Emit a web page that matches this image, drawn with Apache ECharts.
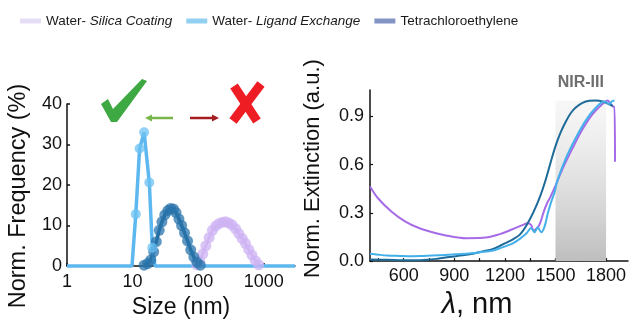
<!DOCTYPE html>
<html>
<head>
<meta charset="utf-8">
<script src="https://cdn.jsdelivr.net/npm/echarts@6/dist/echarts.min.js"></script>
<style>
  html, body { margin: 0; padding: 0; background: #ffffff; }
  #chart { width: 633px; height: 324px; }
</style>
</head>
<body>
<div id="chart"></div>
<script>
// ---- Series names ----
const seriesNames = ['Water- Silica Coating', 'Water- Ligand Exchange', 'Tetrachloroethylene'];

// ---- Left panel: DLS size distributions (size in nm, normalized frequency in %) ----
const sizeTicks = [1, 10, 100, 1000];

const silicaSize = [95, 105, 118, 131, 147, 165, 186, 209, 235, 263, 295, 331, 372, 418, 469, 526, 590, 663, 745, 840];
const silicaFreq = [0.3, 1.2, 3, 5, 7, 8.8, 9.9, 10.5, 10.8, 10.9, 10.6, 10.1, 9.2, 8, 6.8, 5.6, 4.1, 2.7, 1.3, 0.3];

const ligandSize = [1, 9.8, 11.2, 12.8, 15, 18, 20, 22, 3000];
const ligandFreq = [0, 0, 12.8, 29, 33, 20.6, 4.5, 0, 0];

const tetraSize = [15, 17, 19, 21, 23, 25.5, 28, 31, 34.5, 38, 42, 46, 51, 56, 62, 69, 77, 86, 96, 108];
const tetraFreq = [0.2, 0.6, 1.5, 3.5, 6, 8.8, 10.9, 12.6, 13.7, 14.2, 14.1, 13.2, 11.6, 10, 8.2, 6.2, 4, 2.2, 0.9, 0.2];

// ---- Right panel: normalized extinction spectra (wavelength in nm) ----
const wlLabelTicks = [600, 900, 1200, 1500, 1800];
const wlMinorTicks = [450, 600, 750, 900, 1050, 1200, 1350, 1500, 1650, 1800];
const extTicks = [0, 0.3, 0.6, 0.9];
const nirBand = [1500, 1800];
const nirLabel = 'NIR-III';

const silicaWl = [400, 450, 530, 610, 690, 770, 870, 970, 1070, 1170, 1245, 1300, 1335, 1355, 1370, 1385, 1395, 1410, 1430, 1450, 1470, 1500, 1540, 1600, 1660, 1720, 1780, 1810, 1830, 1845, 1850, 1853];
const silicaExt = [0.465, 0.388, 0.306, 0.246, 0.206, 0.18, 0.156, 0.143, 0.145, 0.168, 0.198, 0.222, 0.235, 0.225, 0.19, 0.2, 0.21, 0.24, 0.306, 0.36, 0.4, 0.47, 0.57, 0.7, 0.82, 0.915, 0.98, 1.0, 0.975, 0.96, 0.96, 0.618];

const ligandWl = [400, 450, 500, 575, 650, 700, 770, 850, 870, 970, 1050, 1130, 1170, 1210, 1250, 1290, 1330, 1355, 1375, 1395, 1415, 1435, 1455, 1475, 1495, 1510, 1560, 1620, 1680, 1740, 1790, 1820, 1835, 1850];
const ligandExt = [0.046, 0.04, 0.035, 0.032, 0.03, 0.031, 0.035, 0.038, 0.04, 0.046, 0.055, 0.066, 0.08, 0.095, 0.112, 0.14, 0.175, 0.206, 0.18, 0.21, 0.18, 0.215, 0.3, 0.37, 0.43, 0.496, 0.636, 0.766, 0.876, 0.956, 0.994, 0.978, 0.995, 1.0];

const tetraWl = [400, 500, 600, 700, 800, 870, 950, 1010, 1070, 1130, 1170, 1210, 1250, 1290, 1330, 1370, 1410, 1440, 1470, 1500, 1530, 1560, 1590, 1620, 1660, 1700, 1740, 1780, 1810, 1840];
const tetraExt = [0.01, 0.008, 0.005, 0.006, 0.015, 0.026, 0.036, 0.046, 0.06, 0.076, 0.095, 0.115, 0.137, 0.166, 0.226, 0.306, 0.406, 0.5, 0.61, 0.716, 0.8, 0.866, 0.92, 0.956, 0.985, 0.998, 1.0, 0.994, 0.98, 0.966];

const zip = (xs, ys) => xs.map((x, i) => [x, ys[i]]);

const FONT = "'Liberation Sans', Arial, sans-serif";
const black = '#111111';

const chart = echarts.init(document.getElementById('chart'), null, { renderer: 'canvas' });

function dlsSeries(name, xs, ys, lineColor, dotColor, lineWidth, dotSize) {
  return {
    name: name,
    type: 'line',
    xAxisIndex: 0,
    yAxisIndex: 0,
    clip: false,
    data: zip(xs, ys).map(p => p[1] === 0 ? { value: p, symbol: 'none' } : { value: p }),
    symbol: 'circle',
    symbolSize: dotSize,
    showAllSymbol: true,
    lineStyle: { color: lineColor, width: lineWidth },
    itemStyle: { color: dotColor, opacity: 0.75, borderWidth: 0 },
    emphasis: { disabled: true },
    animation: false
  };
}

function specSeries(name, xs, ys, color) {
  return {
    name: name,
    type: 'line',
    xAxisIndex: 1,
    yAxisIndex: 1,
    data: zip(xs, ys),
    showSymbol: false,
    smooth: 0.35,
    lineStyle: { color: color, width: 2 },
    itemStyle: { color: color },
    emphasis: { disabled: true },
    animation: false
  };
}

const specSilica = specSeries(seriesNames[0], silicaWl, silicaExt, '#a66be6');
specSilica.markArea = {
  silent: true,
  itemStyle: {
    opacity: 1,
    color: new echarts.graphic.LinearGradient(0, 0, 0, 1, [
      { offset: 0, color: 'rgba(240,240,240,0.5)' },
      { offset: 1, color: '#bebebe' }
    ])
  },
  label: {
    show: true,
    position: 'top',
    distance: 10,
    formatter: nirLabel,
    color: '#6e6e6e',
    fontFamily: FONT,
    fontWeight: 'bold',
    fontSize: 16
  },
  data: [[{ xAxis: nirBand[0], yAxis: 0 }, { xAxis: nirBand[1], yAxis: 1.0 }]]
};

const option = {
  backgroundColor: '#ffffff',
  animation: false,
  textStyle: { fontFamily: FONT },
  legend: {
    left: 15,
    top: 9,
    icon: 'rect',
    itemWidth: 21,
    itemHeight: 5,
    itemGap: 14,
    selectedMode: false,
    data: [
      { name: seriesNames[0], itemStyle: { color: '#dcd0f1' } },
      { name: seriesNames[1], itemStyle: { color: '#6cc0ec' } },
      { name: seriesNames[2], itemStyle: { color: '#5a72b2' } }
    ],
    formatter: function (name) {
      const prefix = 'Water- ';
      if (name.indexOf(prefix) === 0) {
        return '{n|' + prefix + '}{i|' + name.slice(prefix.length) + '}';
      }
      return '{n|' + name + '}';
    },
    textStyle: {
      fontFamily: FONT,
      fontSize: 13.5,
      color: '#1a1a1a',
      rich: {
        n: { fontFamily: FONT, fontSize: 13.5, color: '#1a1a1a' },
        i: { fontFamily: FONT, fontSize: 13.5, color: '#1a1a1a', fontStyle: 'italic' }
      }
    }
  },
  grid: [
    { left: 67, top: 104, right: 338, bottom: 57, containLabel: false },
    { left: 370, top: 90, right: 5, bottom: 56, containLabel: false }
  ],
  xAxis: [
    {
      gridIndex: 0,
      type: 'log',
      logBase: 10,
      min: 1,
      max: 3000,
      name: 'Size (nm)',
      nameLocation: 'middle',
      nameGap: 30,
      nameTextStyle: { fontFamily: FONT, fontSize: 23, color: black },
      axisLine: { show: true, onZero: false, lineStyle: { color: black, width: 1.5 } },
      axisTick: { show: true, inside: true, length: 3, lineStyle: { color: black, width: 1.5 } },
      axisLabel: {
        fontFamily: FONT, fontSize: 18, color: black, margin: 7,
        showMaxLabel: false,
        formatter: function (v) {
          const hit = sizeTicks.find(t => Math.abs(t - v) / t < 1e-6);
          return hit !== undefined ? String(hit) : '';
        }
      },
      splitLine: { show: false }
    },
    {
      gridIndex: 1,
      type: 'value',
      min: 400,
      max: 1930,
      name: '{i|λ}, nm',
      nameLocation: 'middle',
      nameGap: 19,
      nameTextStyle: {
        fontFamily: FONT, fontSize: 29, color: black,
        padding: [0, 44, 0, 0],
        rich: { i: { fontFamily: FONT, fontSize: 29, fontStyle: 'italic', color: black } }
      },
      axisLine: { show: true, onZero: false, lineStyle: { color: black, width: 1.5 } },
      axisTick: { show: true, inside: true, length: 3, customValues: wlMinorTicks, lineStyle: { color: black, width: 1.2 } },
      axisLabel: {
        fontFamily: FONT, fontSize: 18, color: black, margin: 6,
        customValues: wlLabelTicks,
        formatter: v => String(Math.round(v))
      },
      splitLine: { show: false }
    }
  ],
  yAxis: [
    {
      gridIndex: 0,
      type: 'value',
      min: 0,
      max: 40,
      interval: 10,
      name: 'Norm. Frequency (%)',
      nameLocation: 'middle',
      nameGap: 36,
      nameTextStyle: { fontFamily: FONT, fontSize: 23.5, color: black, padding: [0, 22, 0, 0] },
      axisLine: { show: true, onZero: false, lineStyle: { color: black, width: 1.5 } },
      axisTick: { show: true, inside: true, length: 3, lineStyle: { color: black, width: 1.5 } },
      axisLabel: { fontFamily: FONT, fontSize: 18, color: black, margin: 5 },
      splitLine: { show: false }
    },
    {
      gridIndex: 1,
      type: 'value',
      min: 0,
      max: 1.065,
      name: 'Norm. Extinction (a.u.)',
      nameLocation: 'middle',
      nameGap: 46,
      nameTextStyle: { fontFamily: FONT, fontSize: 22, color: black, padding: [0, 0, 0, 14] },
      axisLine: { show: true, onZero: false, lineStyle: { color: black, width: 1.5 } },
      axisTick: { show: true, inside: true, length: 3, customValues: extTicks, lineStyle: { color: black, width: 1.2 } },
      axisLabel: {
        fontFamily: FONT, fontSize: 18, color: black, margin: 6,
        customValues: extTicks,
        formatter: v => v.toFixed(1)
      },
      splitLine: { show: false }
    }
  ],
  series: [
    dlsSeries(seriesNames[0], silicaSize, silicaFreq, '#d6c2f6', '#cdb3f3', 3, 11),
    dlsSeries(seriesNames[2], tetraSize, tetraFreq, '#1c6aa0', '#2a74ab', 3.5, 11),
    dlsSeries(seriesNames[1], ligandSize, ligandFreq, '#5db8ef', '#6cc2f3', 3.5, 10),
    specSilica,
    specSeries(seriesNames[2], tetraWl, tetraExt, '#1e6b99'),
    specSeries(seriesNames[1], ligandWl, ligandExt, '#44b0ea')
  ],
  graphic: [
    // green check mark
    {
      type: 'polygon',
      silent: true,
      shape: { points: [[101, 104], [108, 99], [113, 109], [142, 79], [147, 81], [117, 122], [111, 122]] },
      style: { fill: '#3ea843' }
    },
    // red cross
    {
      type: 'line', silent: true,
      shape: { x1: 234, y1: 86, x2: 257, y2: 121 },
      style: { stroke: '#ee1d23', lineWidth: 9 }
    },
    {
      type: 'line', silent: true,
      shape: { x1: 261, y1: 84, x2: 233, y2: 121 },
      style: { stroke: '#ee1d23', lineWidth: 9 }
    },
    // green arrow pointing left
    {
      type: 'line', silent: true,
      shape: { x1: 173, y1: 118, x2: 150, y2: 118 },
      style: { stroke: '#78b64a', lineWidth: 2.5 }
    },
    {
      type: 'polygon', silent: true,
      shape: { points: [[145, 118], [152, 114.5], [152, 121.5]] },
      style: { fill: '#78b64a' }
    },
    // dark red arrow pointing right
    {
      type: 'line', silent: true,
      shape: { x1: 190, y1: 118, x2: 213, y2: 118 },
      style: { stroke: '#a31d21', lineWidth: 2.5 }
    },
    {
      type: 'polygon', silent: true,
      shape: { points: [[219, 118], [212, 114.5], [212, 121.5]] },
      style: { fill: '#a31d21' }
    }
  ]
};

chart.setOption(option);
</script>
</body>
</html>
